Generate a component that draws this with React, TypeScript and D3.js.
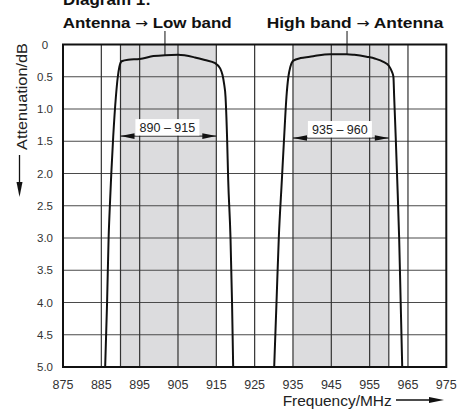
import React from "react";
import * as d3 from "d3";

// Frequency axis (MHz) and attenuation axis (dB)
const freqTicks = [875, 885, 895, 905, 915, 925, 935, 945, 955, 965, 975];
const attTicks = [0, 0.5, 1.0, 1.5, 2.0, 2.5, 3.0, 3.5, 4.0, 4.5, 5.0];
const attTickLabels = ["0", "0.5", "1.0", "1.5", "2.0", "2.5", "3.0", "3.5", "4.0", "4.5", "5.0"];

// Pass bands
const bandStart = [890, 935];
const bandEnd = [915, 960];
const bandLabels = ["890 – 915", "935 – 960"];
const bandArrowAtt = [1.42, 1.45];

// Filter responses
const lowBandFreq = [886.0, 886.5, 886.9, 887.3, 887.6, 888.1, 888.8, 889.3, 889.7, 890.3, 892.0, 895.0, 898.6, 901.6, 905.0, 909.4, 912.0, 914.7, 916.0, 916.6, 917.0, 917.4, 917.8, 918.1, 918.7, 919.1, 919.4];
const lowBandAtt = [5.0, 4.0, 3.0, 2.4, 2.0, 1.43, 0.81, 0.5, 0.35, 0.26, 0.235, 0.225, 0.18, 0.165, 0.16, 0.2, 0.24, 0.29, 0.37, 0.47, 0.6, 0.81, 1.43, 2.1, 3.0, 4.0, 5.0];

const highBandFreq = [930.1, 930.7, 931.3, 932.1, 932.7, 933.3, 933.8, 934.3, 935.1, 937.0, 939.4, 941.3, 944.7, 949.0, 951.0, 954.2, 956.5, 958.6, 960.0, 960.8, 961.2, 961.4, 961.8, 962.2, 962.7, 963.1, 963.5];
const highBandAtt = [5.0, 4.0, 3.0, 2.1, 1.43, 0.81, 0.5, 0.35, 0.25, 0.21, 0.19, 0.17, 0.15, 0.15, 0.16, 0.19, 0.22, 0.27, 0.33, 0.42, 0.5, 0.81, 1.43, 2.1, 3.0, 4.0, 5.0];

// Curve titles (source, destination) and the points their leader lines touch
const titleFrom = ["Antenna", "High band"];
const titleTo = ["Low band", "Antenna"];
const titleX = [62.7, 266.7];
const titleWidth = [169, 176.6];
const leaderFreq = [901.6, 949.1];
const leaderAtt = [0.165, 0.15];

const W = 459;
const H = 410;
const FONT = "'Liberation Sans', Arial, Helvetica, sans-serif";

export default function App() {
  const x = d3.scaleLinear().domain([875, 975]).range([63, 446.3]);
  const y = d3.scaleLinear().domain([0, 5]).range([44.5, 367]);

  const line = d3
    .line<[number, number]>()
    .x((d) => x(d[0]))
    .y((d) => y(d[1]))
    .curve(d3.curveMonotoneX);

  const lowPts = lowBandFreq.map((f, i) => [f, lowBandAtt[i]] as [number, number]);
  const highPts = highBandFreq.map((f, i) => [f, highBandAtt[i]] as [number, number]);

  // vertical grid: odd-five frequencies plus band edges
  const vGrid = Array.from(new Set([...d3.range(885, 970, 10), ...bandStart, ...bandEnd])).sort((a, b) => a - b);
  const hGrid = attTicks.filter((t) => t > 0 && t < 5);

  const [x0, x1] = x.range();
  const [y0, y1] = y.range();

  return (
    <svg width={W} height={H} style={{ position: "absolute", left: 0, top: 0, background: "#fff" }} fontFamily={FONT}>
      <defs>
        <clipPath id="plot">
          <rect x={x0} y={y0} width={x1 - x0} height={y1 - y0} />
        </clipPath>
      </defs>

      {/* heading */}
      <text x={63} y={5} fontSize={17} fontWeight="bold" fill="#111">Diagram 1:</text>

      {/* band shading */}
      {bandStart.map((s, i) => (
        <rect key={"band" + i} x={x(s)} y={y0} width={x(bandEnd[i]) - x(s)} height={y1 - y0} fill="#dcdcde" />
      ))}

      {/* grid */}
      {hGrid.map((t) => (
        <line key={"h" + t} x1={x0} x2={x1} y1={y(t)} y2={y(t)} stroke="#4a4a4a" strokeWidth={1.2} />
      ))}
      {vGrid.map((f) => (
        <line key={"v" + f} x1={x(f)} x2={x(f)} y1={y0} y2={y1} stroke="#333" strokeWidth={1.2} />
      ))}

      {/* band width annotations */}
      {bandStart.map((s, i) => {
        const ya = y(bandArrowAtt[i]);
        const xa = x(s);
        const xb = x(bandEnd[i]);
        const cx = (xa + xb) / 2 - 1;
        const hl = 14;
        const hw = 2.8;
        return (
          <g key={"ann" + i}>
            <line x1={xa} x2={xb} y1={ya} y2={ya} stroke="#111" strokeWidth={1} />
            <path d={`M${xa},${ya} L${xa + hl},${ya - hw} L${xa + hl},${ya + hw} Z`} fill="#111" />
            <path d={`M${xb},${ya} L${xb - hl},${ya - hw} L${xb - hl},${ya + hw} Z`} fill="#111" />
            <rect x={cx - 32} y={ya - 17} width={64} height={16.5} fill="#fff" />
            <text x={cx} y={ya - 4.5} fontSize={12.5} textAnchor="middle" fill="#222">{bandLabels[i]}</text>
          </g>
        );
      })}

      {/* filter curves */}
      <g clipPath="url(#plot)">
        <path d={line(lowPts) || ""} fill="none" stroke="#111" strokeWidth={2} strokeLinejoin="round" />
        <path d={line(highPts) || ""} fill="none" stroke="#111" strokeWidth={2} strokeLinejoin="round" />
      </g>

      {/* frame */}
      <rect x={x0} y={y0} width={x1 - x0} height={y1 - y0} fill="none" stroke="#111" strokeWidth={2} />

      {/* curve titles and leaders */}
      {titleFrom.map((t, i) => (
        <g key={"title" + i}>
          <line x1={x(leaderFreq[i])} x2={x(leaderFreq[i])} y1={31} y2={y(leaderAtt[i])} stroke="#111" strokeWidth={1} />
          <text x={titleX[i]} y={27.5} fontSize={15.5} fontWeight="bold" fill="#111" textLength={titleWidth[i]} lengthAdjust="spacingAndGlyphs">
            {t + " "}
            <tspan fontFamily="'DejaVu Sans', sans-serif" fontWeight="normal" fontSize={14}>→</tspan>
            {" " + titleTo[i]}
          </text>
        </g>
      ))}

      {/* y tick labels */}
      {attTicks.map((t, i) => (
        <text key={"yt" + t} x={45} y={y(t)} dy="0.35em" fontSize={11.5} textAnchor="middle" fill="#333">{attTickLabels[i]}</text>
      ))}

      {/* x tick labels */}
      {freqTicks.map((f) => (
        <text key={"xt" + f} x={x(f)} y={389} fontSize={12.5} textAnchor="middle" fill="#333">{f}</text>
      ))}

      {/* y axis title with arrow */}
      <text transform="translate(26.5,150) rotate(-90)" fontSize={14.5} fill="#222" textLength={107} lengthAdjust="spacingAndGlyphs">Attenuation/dB</text>
      <line x1={19.5} x2={19.5} y1={155} y2={184} stroke="#111" strokeWidth={1.3} />
      <path d="M16.5,182 L22.5,182 L19.5,197 Z" fill="#111" />

      {/* x axis title with arrow */}
      <text x={282.7} y={406} fontSize={14.5} fill="#222" textLength={109} lengthAdjust="spacingAndGlyphs">Frequency/MHz</text>
      <line x1={396} x2={432} y1={400} y2={400} stroke="#111" strokeWidth={1.3} />
      <path d="M429,397 L429,403 L444,400 Z" fill="#111" />
    </svg>
  );
}
